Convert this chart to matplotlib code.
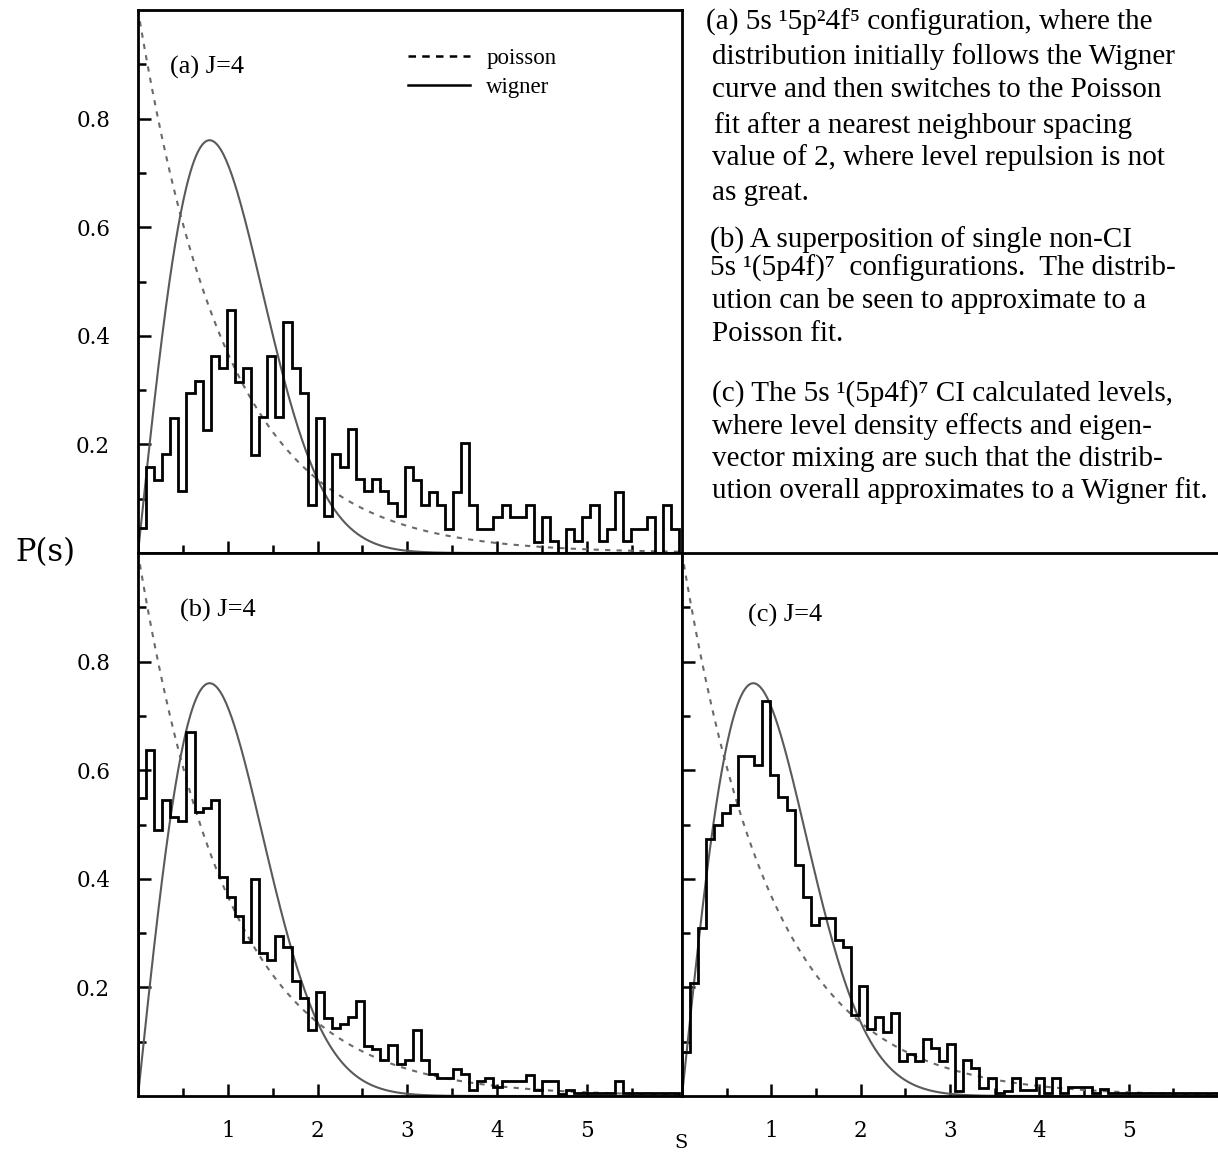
import numpy as np
import matplotlib
matplotlib.use("Agg")
import matplotlib.pyplot as plt
from matplotlib.lines import Line2D
from matplotlib.ticker import FixedLocator

# Nearest-neighbour spacing histograms, bin width 0.09 starting at s = 0
bin_width = 0.09

hist_a = [0.046, 0.159, 0.135, 0.182, 0.249, 0.115, 0.294, 0.317, 0.226, 0.362,
          0.340, 0.447, 0.315, 0.340, 0.180, 0.250, 0.362, 0.250, 0.425, 0.340,
          0.294, 0.089, 0.249, 0.068, 0.182, 0.159, 0.228, 0.137, 0.115, 0.137,
          0.115, 0.092, 0.068, 0.159, 0.135, 0.089, 0.113, 0.089, 0.044, 0.113,
          0.203, 0.089, 0.044, 0.044, 0.067, 0.089, 0.067, 0.067, 0.089, 0.021,
          0.067, 0.023, 0.000, 0.044, 0.023, 0.067, 0.089, 0.023, 0.044, 0.113,
          0.023, 0.044, 0.044, 0.067, 0.000, 0.089, 0.044]

hist_b = [0.549, 0.638, 0.490, 0.546, 0.513, 0.507, 0.670, 0.523, 0.530, 0.546,
          0.404, 0.366, 0.332, 0.283, 0.400, 0.264, 0.251, 0.295, 0.274, 0.212,
          0.180, 0.121, 0.191, 0.144, 0.125, 0.133, 0.146, 0.175, 0.093, 0.086,
          0.067, 0.094, 0.059, 0.067, 0.121, 0.067, 0.040, 0.034, 0.034, 0.050,
          0.040, 0.011, 0.027, 0.033, 0.017, 0.028, 0.028, 0.028, 0.039, 0.011,
          0.028, 0.028, 0.004, 0.011, 0.005, 0.005, 0.005, 0.005, 0.005, 0.028,
          0.005, 0.005, 0.005, 0.005, 0.005, 0.005, 0.005]

hist_c = [0.081, 0.208, 0.310, 0.473, 0.499, 0.522, 0.535, 0.626, 0.626, 0.609,
          0.727, 0.592, 0.550, 0.527, 0.425, 0.366, 0.314, 0.327, 0.327, 0.287,
          0.274, 0.150, 0.202, 0.123, 0.146, 0.118, 0.152, 0.065, 0.078, 0.065,
          0.105, 0.088, 0.065, 0.095, 0.009, 0.066, 0.051, 0.015, 0.034, 0.006,
          0.010, 0.034, 0.011, 0.011, 0.034, 0.006, 0.034, 0.006, 0.017, 0.017,
          0.017, 0.006, 0.012, 0.006, 0.006, 0.006, 0.006, 0.006, 0.006, 0.006,
          0.006, 0.006, 0.006, 0.006, 0.006, 0.006, 0.006]

panel_labels = ["(a) J=4", "(b) J=4", "(c) J=4"]
legend_labels = ["poisson", "wigner"]
x_tick_labels = ["1", "2", "3", "4", "5"]
y_tick_labels = ["0.2", "0.4", "0.6", "0.8"]

caption_lines = [
    "(a) 5s \u00b95p\u00b24f\u2075 configuration, where the",
    "distribution initially follows the Wigner",
    "curve and then switches to the Poisson",
    "fit after a nearest neighbour spacing",
    "value of 2, where level repulsion is not",
    "as great.",
    "(b) A superposition of single non-CI",
    "5s \u00b9(5p4f)\u2077  configurations.  The distrib-",
    "ution can be seen to approximate to a",
    "Poisson fit.",
    "(c) The 5s \u00b9(5p4f)\u2077 CI calculated levels,",
    "where level density effects and eigen-",
    "vector mixing are such that the distrib-",
    "ution overall approximates to a Wigner fit.",
]
caption_y_px = [22, 57, 90, 126, 158, 193, 240, 268, 301, 334, 394, 427, 459, 491]
caption_x_px = [706, 712, 712, 714, 712, 712, 710, 710, 712, 712, 712, 712, 712, 712]

SERIF = ["Liberation Serif", "DejaVu Serif"]
TICKFONT = ["DejaVu Serif"]

W, H = 1218, 1154
fig = plt.figure(figsize=(W / 100, H / 100), dpi=100)


def frac_box(left, top, right, bottom):
    return [left / W, 1 - bottom / H, (right - left) / W, (bottom - top) / H]


ax_a = fig.add_axes(frac_box(138, 10, 682, 553))
ax_b = fig.add_axes(frac_box(138, 553, 682, 1096))
ax_c = fig.add_axes(frac_box(682, 553, 1218, 1096))

s = np.linspace(0, 6.2, 600)
wigner = np.pi / 2 * s * np.exp(-np.pi * s ** 2 / 4)
poisson = np.exp(-s)

hists = [hist_a, hist_b, hist_c]
axes = [ax_a, ax_b, ax_c]
xmax = [6.06, 6.06, 6.0]
label_pos = [(0.36, 0.895), (0.47, 0.895), (0.74, 0.885)]

for k, (ax, h) in enumerate(zip(axes, hists)):
    edges = np.arange(len(h) + 1) * bin_width
    ax.plot(s, poisson, color="#6a6a6a", lw=1.5, ls=(0, (2.5, 3.0)), zorder=2)
    ax.plot(s, wigner, color="#5a5a5a", lw=1.5, zorder=2)
    ax.stairs(h, edges, color="black", lw=2.0, zorder=3)
    ax.set_xlim(0, xmax[k])
    ax.set_ylim(0, 1.0)
    for sp in ax.spines.values():
        sp.set_linewidth(2.0)
    ax.xaxis.set_major_locator(FixedLocator([1, 2, 3, 4, 5]))
    ax.xaxis.set_minor_locator(FixedLocator([0.5, 1.5, 2.5, 3.5, 4.5, 5.5]))
    ax.yaxis.set_major_locator(FixedLocator([0.2, 0.4, 0.6, 0.8]))
    ax.yaxis.set_minor_locator(FixedLocator([0.1, 0.3, 0.5, 0.7, 0.9]))
    ax.tick_params(which="both", direction="in", top=False, right=False,
                   width=1.8)
    ax.tick_params(which="major", length=9)
    ax.tick_params(which="minor", length=6)
    ax.text(label_pos[k][0], label_pos[k][1], panel_labels[k],
            family=SERIF, fontsize=19, ha="left", va="center")

# tick labels
ax_a.set_xticklabels([])
ax_c.set_yticklabels([])
for ax in (ax_a, ax_b):
    ax.set_yticklabels(y_tick_labels, family=TICKFONT, fontsize=15.5)
    ax.tick_params(axis="y", which="major", pad=20)
for ax in (ax_b, ax_c):
    ax.set_xticklabels(x_tick_labels, family=TICKFONT, fontsize=15.5)
    ax.tick_params(axis="x", which="major", pad=17)
ax_c.spines["right"].set_visible(False)
ax_a.spines["bottom"].set_zorder(5)

# legend in panel (a)
handles = [Line2D([], [], color="black", lw=1.8, ls=(0, (3.0, 2.5))),
           Line2D([], [], color="black", lw=1.8)]
ax_a.legend(handles, legend_labels, loc="upper left",
            bbox_to_anchor=(0.497, 0.93), frameon=False,
            prop={"family": SERIF, "size": 16.5},
            handlelength=2.7, handletextpad=0.7, labelspacing=0.35,
            borderpad=0, borderaxespad=0)

# axis titles
fig.text(45 / W, 1 - 553 / H, "P(s)", family=TICKFONT, fontsize=22,
         ha="center", va="center")
fig.text(681 / W, 1 - 1143 / H, "S", family=TICKFONT, fontsize=14,
         ha="center", va="center")

# caption block
for txt, xp, yp in zip(caption_lines, caption_x_px, caption_y_px):
    fig.text(xp / W, 1 - yp / H, txt, family=SERIF, fontsize=21,
             ha="left", va="center")

fig.savefig("out.png", dpi=100)
